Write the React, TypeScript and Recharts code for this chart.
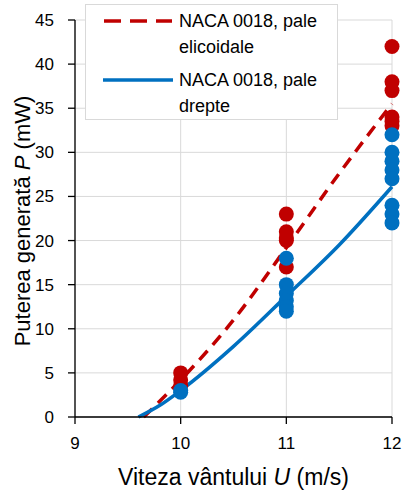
import { ComposedChart, Line, Scatter, XAxis, YAxis, CartesianGrid } from 'recharts';

// wind speeds on the x axis
const speedTicks = [9, 10, 11, 12];
const powerTicks = [0, 5, 10, 15, 20, 25, 30, 35, 40, 45];

// measured power (mW), helical blades
const heli10 = [5, 4.2, 3.6];
const heli11 = [23, 21, 20.3, 20, 17];
const heli12 = [42, 38, 37, 34, 33.5, 33];

// measured power (mW), straight blades
const straight10 = [3, 2.8];
const straight11 = [18, 15, 14, 13.2, 12.5, 12];
const straight12 = [32, 30, 29, 28, 27, 24, 23, 22];

// fitted curves
const heliFitU = [9.65, 10, 10.5, 11, 11.5, 12];
const heliFitP = [0, 4.2, 11.0, 19.2, 27.6, 35.5];
const straightFitU = [9.6, 9.8, 10, 10.5, 11, 11.5, 12];
const straightFitP = [0, 1.3, 3.0, 8.0, 13.7, 19.5, 26.1];

const RED = '#C00000';
const BLUE = '#0070C0';
const FONT = '"Liberation Sans", Arial, sans-serif';

const toPoints = (u: number, vals: number[]) => vals.map((p) => ({ u, p }));

const heliPoints = [...toPoints(10, heli10), ...toPoints(11, heli11), ...toPoints(12, heli12)];
const straightPoints = [
  ...toPoints(10, straight10),
  ...toPoints(11, straight11),
  ...toPoints(12, straight12),
];
const heliFit = heliFitU.map((u, i) => ({ u, p: heliFitP[i] }));
const straightFit = straightFitU.map((u, i) => ({ u, p: straightFitP[i] }));

const dot = (color: string) => (props: any) =>
  <circle cx={props.cx} cy={props.cy} r={7.5} fill={color} />;

const XTitle = (props: any) => {
  const { viewBox } = props;
  const cx = viewBox.x + viewBox.width / 2;
  return (
    <text x={cx} y={485} textAnchor="middle" fontSize={23} fill="#000" fontFamily={FONT}>
      Viteza vântului <tspan fontStyle="italic">U</tspan> (m/s)
    </text>
  );
};

const YTitle = () => (
  <text
    x={30}
    y={221}
    transform="rotate(-90 30 221)"
    textAnchor="middle"
    fontSize={22}
    fill="#000"
    fontFamily={FONT}
  >
    Puterea generată <tspan fontStyle="italic">P</tspan> (mW)
  </text>
);

const LegendBox = () => (
  <div
    style={{
      position: 'absolute',
      left: 85,
      top: 4,
      width: 253,
      height: 116,
      boxSizing: 'border-box',
      border: '1px solid #d9d9d9',
      background: '#fff',
      fontFamily: FONT,
      fontSize: 18,
      lineHeight: '26px',
      color: '#000',
    }}
  >
    <svg width={90} height={110} style={{ position: 'absolute', left: 0, top: 0 }}>
      <line x1={18} y1={16} x2={86} y2={16} stroke={RED} strokeWidth={3.5} strokeDasharray="17 9" />
      <line x1={17} y1={75} x2={87} y2={75} stroke={BLUE} strokeWidth={3.5} />
    </svg>
    <div style={{ position: 'absolute', left: 93, top: 3 }}>
      NACA 0018, pale
      <br />
      elicoidale
    </div>
    <div style={{ position: 'absolute', left: 93, top: 62 }}>
      NACA 0018, pale
      <br />
      drepte
    </div>
  </div>
);

export default function App() {
  return (
    <div style={{ position: 'absolute', left: 0, top: 0, width: 403, height: 491, background: '#fff' }}>
      <ComposedChart width={403} height={491} margin={{ top: 20, right: 11, left: 0, bottom: 0 }}>
        <CartesianGrid stroke="#d9d9d9" strokeWidth={1} />
        <XAxis
          type="number"
          dataKey="u"
          domain={[9, 12]}
          ticks={speedTicks}
          height={74}
          tickSize={7}
          tickMargin={13}
          axisLine={{ stroke: '#000', strokeWidth: 1.3 }}
          tickLine={{ stroke: '#000', strokeWidth: 1.3 }}
          tick={{ fill: '#000', fontSize: 17, fontFamily: FONT }}
          label={{ content: XTitle }}
        />
        <YAxis
          type="number"
          dataKey="p"
          domain={[0, 45]}
          ticks={powerTicks}
          width={75}
          tickSize={7}
          tickMargin={14}
          axisLine={{ stroke: '#000', strokeWidth: 1.3 }}
          tickLine={{ stroke: '#000', strokeWidth: 1.3 }}
          tick={{ fill: '#000', fontSize: 17, fontFamily: FONT }}
          label={{ content: YTitle }}
        />
        <Line
          data={heliFit}
          dataKey="p"
          type="monotone"
          stroke={RED}
          strokeWidth={3.5}
          strokeDasharray="12 8"
          dot={false}
          isAnimationActive={false}
        />
        <Line
          data={straightFit}
          dataKey="p"
          type="monotone"
          stroke={BLUE}
          strokeWidth={3.5}
          dot={false}
          isAnimationActive={false}
        />
        <Scatter data={heliPoints} dataKey="p" shape={dot(RED)} isAnimationActive={false} />
        <Scatter data={straightPoints} dataKey="p" shape={dot(BLUE)} isAnimationActive={false} />
      </ComposedChart>
      <LegendBox />
    </div>
  );
}
